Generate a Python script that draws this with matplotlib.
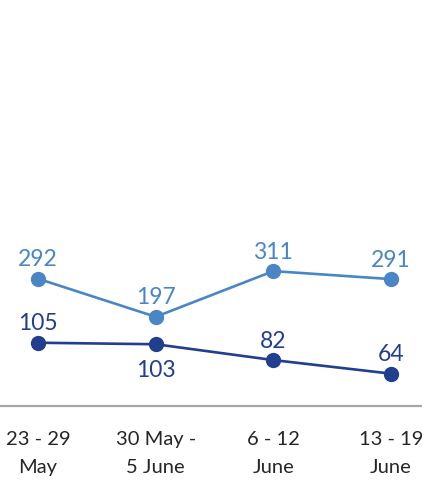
import matplotlib.pyplot as plt

# Datos del grafico
semanas = ['23 - 29\nMay', '30 May -\n5 June', '6 - 12\nJune', '13 - 19\nJune']
serie_clara = [292, 197, 311, 291]
serie_oscura = [105, 103, 82, 64]

color_claro = '#4A86C5'
color_oscuro = '#213E8F'

plt.rcParams['font.family'] = ['Lato', 'DejaVu Sans']

fig = plt.figure(figsize=(4.22, 4.84), dpi=100)
ax = fig.add_axes([0, 78 / 484, 1, 406 / 484])
ax2 = ax.twinx()

x = list(range(len(semanas)))

ax.plot(x, serie_clara, color=color_claro, lw=1.9, marker='o', ms=10, zorder=3)
ax2.plot(x, serie_oscura, color=color_oscuro, lw=1.9, marker='o', ms=10, zorder=3)

# Etiquetas de datos
for xi, v in zip(x, serie_clara):
    ax.annotate(str(v), (xi, v), xytext=(0, 6), textcoords='offset points',
                ha='center', va='bottom', fontsize=16.5, color=color_claro)

pos_oscura = ['top', 'bottom', 'top', 'top']
for xi, v, p in zip(x, serie_oscura, pos_oscura):
    dy = 6 if p == 'top' else -11
    va = 'bottom' if p == 'top' else 'top'
    ax2.annotate(str(v), (xi, v), xytext=(0, dy), textcoords='offset points',
                 ha='center', va=va, fontsize=16.5, color=color_oscuro)

ax.set_xlim(-0.323, 3.263)
ax.set_ylim(-25.4, 987)
ax2.set_ylim(21.1, 559.5)

ax.set_xticks(x)
ax.set_xticklabels(semanas, fontsize=14.5, color='#262626', linespacing=1.8)
ax.tick_params(axis='x', length=0, pad=18)
ax.set_yticks([])
ax2.set_yticks([])

for a in (ax, ax2):
    for s in ['top', 'left', 'right', 'bottom']:
        a.spines[s].set_visible(False)
ax.spines['bottom'].set_visible(True)
ax.spines['bottom'].set_color('#A6A6A6')
ax.spines['bottom'].set_linewidth(1.6)

fig.savefig('out.png', dpi=100)
